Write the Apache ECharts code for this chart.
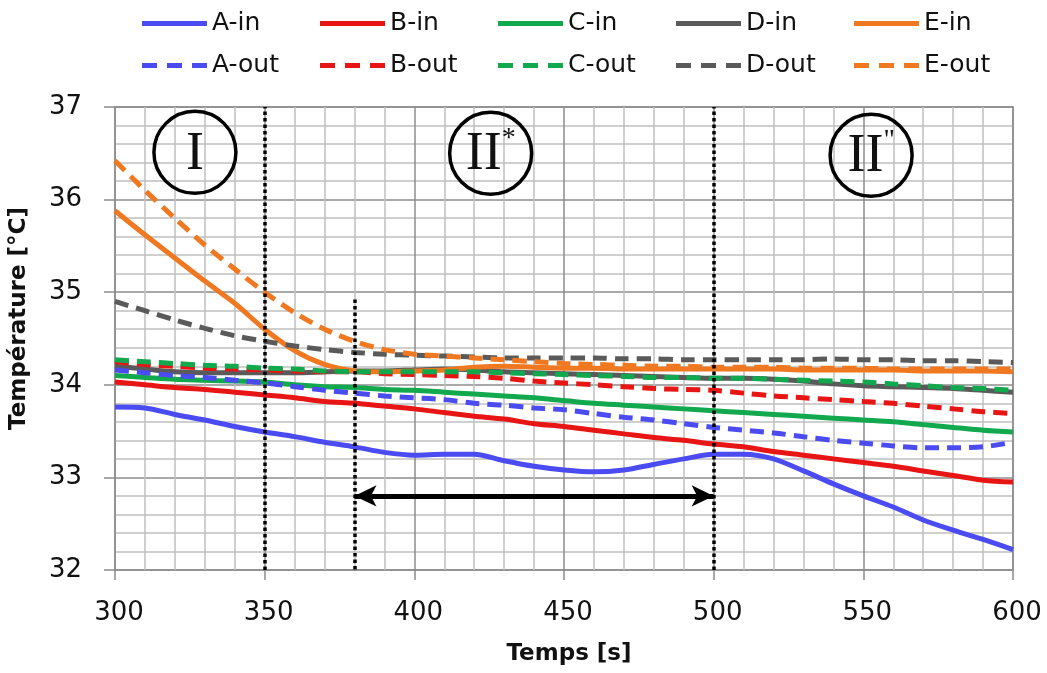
<!DOCTYPE html>
<html><head><meta charset="utf-8">
<script src="https://cdn.jsdelivr.net/npm/echarts@6/dist/echarts.min.js"></script>
<style>html,body{margin:0;padding:0;background:#fff}#c{width:1047px;height:673px}</style>
</head><body><div id="c"></div>
<script>
var times = [300,310,320,330,340,350,360,370,380,390,400,410,420,430,440,450,460,470,480,490,500,510,520,530,540,550,560,570,580,590,600];
var xTicks = [300,350,400,450,500,550,600];
var yTicks = [32,33,34,35,36,37];
var seriesNames = ['A-in','B-in','C-in','D-in','E-in','A-out','B-out','C-out','D-out','E-out'];
var A_in  = [33.76,33.75,33.68,33.62,33.55,33.49,33.44,33.38,33.33,33.27,33.24,33.25,33.25,33.18,33.12,33.08,33.06,33.08,33.14,33.20,33.25,33.25,33.20,33.07,32.93,32.80,32.68,32.54,32.43,32.33,32.22];
var B_in  = [34.03,34.00,33.97,33.95,33.92,33.89,33.86,33.82,33.80,33.77,33.74,33.70,33.66,33.63,33.58,33.55,33.51,33.47,33.43,33.40,33.36,33.33,33.28,33.24,33.20,33.16,33.12,33.07,33.02,32.97,32.95];
var C_in  = [34.10,34.08,34.06,34.05,34.04,34.03,34.00,33.98,33.97,33.95,33.94,33.92,33.90,33.88,33.86,33.83,33.80,33.78,33.76,33.74,33.72,33.70,33.68,33.66,33.64,33.62,33.60,33.57,33.54,33.51,33.49];
var D_in  = [34.20,34.17,34.14,34.13,34.13,34.13,34.13,34.14,34.15,34.15,34.16,34.17,34.16,34.14,34.13,34.12,34.11,34.10,34.09,34.08,34.07,34.07,34.06,34.04,34.01,33.99,33.98,33.97,33.96,33.94,33.92];
var E_in  = [35.88,35.62,35.37,35.12,34.88,34.60,34.37,34.22,34.15,34.14,34.15,34.16,34.19,34.20,34.19,34.18,34.18,34.17,34.17,34.17,34.17,34.17,34.17,34.16,34.16,34.16,34.16,34.15,34.15,34.15,34.14];
var A_out = [34.16,34.13,34.10,34.08,34.05,34.02,33.98,33.94,33.91,33.88,33.86,33.84,33.80,33.78,33.75,33.73,33.69,33.65,33.62,33.58,33.54,33.51,33.48,33.44,33.40,33.37,33.34,33.32,33.32,33.33,33.38];
var B_out = [34.25,34.22,34.20,34.18,34.17,34.16,34.15,34.14,34.14,34.12,34.11,34.10,34.09,34.07,34.04,34.02,34.00,33.98,33.96,33.95,33.94,33.91,33.88,33.86,33.84,33.82,33.80,33.77,33.74,33.71,33.69];
var C_out = [34.27,34.25,34.23,34.21,34.20,34.18,34.17,34.15,34.14,34.14,34.14,34.14,34.14,34.13,34.12,34.11,34.10,34.09,34.08,34.08,34.07,34.07,34.06,34.05,34.04,34.03,34.01,33.99,33.97,33.96,33.94];
var D_out = [34.90,34.80,34.70,34.61,34.53,34.47,34.42,34.38,34.35,34.33,34.32,34.31,34.30,34.29,34.29,34.29,34.29,34.28,34.28,34.27,34.27,34.27,34.27,34.27,34.28,34.27,34.27,34.26,34.26,34.25,34.24];
var E_out = [36.42,36.10,35.80,35.51,35.25,35.00,34.78,34.60,34.47,34.38,34.33,34.31,34.29,34.27,34.25,34.23,34.22,34.21,34.20,34.20,34.19,34.19,34.19,34.18,34.18,34.18,34.17,34.17,34.17,34.17,34.17];
var phaseLines = [350, 500];
var arrowStart = 380, arrowEnd = 500, arrowY = 32.8, partialTop = 34.92;
var regionLabels = [
  {x: 326.7, y: 36.51, main: 'I', sup: ''},
  {x: 425.5, y: 36.50, main: 'II', sup: '*'},
  {x: 552.6, y: 36.48, main: 'II', sup: '"'}
];

var allData = [A_in,B_in,C_in,D_in,E_in,A_out,B_out,C_out,D_out,E_out];
var colors = ['#4B4BF2','#E81515','#12A84E','#5A5A5A','#F07820','#4B4BF2','#E81515','#12A84E','#5A5A5A','#F07820'];
var font = 'DejaVu Sans';

var series = seriesNames.map(function(name, i){
  return {
    name: name, type: 'line', showSymbol: false, symbol: 'none', smooth: 0.3,
    data: times.map(function(t, j){ return [t, allData[i][j]]; }),
    lineStyle: {color: colors[i], width: 5, type: i >= 5 ? [14, 8] : 'solid'},
    itemStyle: {color: colors[i]},
    emphasis: {disabled: true},
    z: 3, animation: false
  };
});

var dot = {color: '#000', width: 3.5, type: [3.5, 3]};
series.push({
  type: 'line', data: [], silent: true, animation: false,
  markLine: {
    silent: true, symbol: 'none', animation: false,
    label: {show: false},
    data: phaseLines.map(function(v){ return {xAxis: v, lineStyle: dot}; }).concat([
      [{coord: [arrowStart, partialTop], lineStyle: dot}, {coord: [arrowStart, 32]}],
      [{coord: [arrowStart, arrowY], symbol: 'arrow', symbolSize: [16, 22], lineStyle: {color: '#000', width: 5, type: 'solid'}},
       {coord: [arrowEnd, arrowY], symbol: 'arrow', symbolSize: [16, 22]}]
    ])
  },
  markPoint: {
    silent: true, animation: false,
    data: regionLabels.map(function(r){
      return {
        coord: [r.x, r.y], symbol: 'circle', symbolSize: 82,
        itemStyle: {color: 'rgba(255,255,255,0)', borderColor: '#000', borderWidth: 3.5},
        label: {
          show: true, position: 'inside',
          formatter: '{m|' + r.main + '}' + (r.sup ? '{s|' + r.sup + '}' : ''),
          rich: {
            m: {fontFamily: 'Liberation Serif', fontSize: 54, color: '#111', verticalAlign: 'middle', padding: [4,0,0,0]},
            s: {fontFamily: 'Liberation Serif', fontSize: 28, color: '#111', verticalAlign: 'top', padding: [0,0,20,0]}
          }
        }
      };
    })
  }
});

var solidIcon = 'path://M0,0h65v5h-65z';
var dashIcon = 'path://M0,0h15v5h-15z M25,0h15v5h-15z M50,0h15v5h-15z';
var legends = seriesNames.map(function(name, i){
  var row = i < 5 ? 0 : 1;
  var col = i % 5;
  return {
    data: [{name: name, icon: row ? dashIcon : solidIcon}],
    left: 137 + 178 * col, top: row ? 48 : 6,
    itemWidth: 65, itemHeight: 5, itemGap: 0, selectedMode: false,
    textStyle: {fontFamily: font, fontSize: 25, color: '#111', padding: [0,0,0,0]}
  };
});

var chart = echarts.init(document.getElementById('c'), null, {renderer: 'canvas'});
chart.setOption({
  animation: false,
  backgroundColor: '#fff',
  legend: legends,
  grid: {left: 115, right: 34, top: 107, bottom: 103, show: true, borderColor: '#8c8c8c', borderWidth: 1.5},
  xAxis: {
    type: 'value', min: xTicks[0], max: xTicks[xTicks.length-1], interval: 50,
    name: 'Temps [s]', nameLocation: 'middle', nameGap: 73,
    nameTextStyle: {fontFamily: font, fontSize: 23, fontWeight: 'bold', color: '#111', padding: [0,0,0,10]},
    axisLine: {show: false},
    axisTick: {show: true, length: 10, lineStyle: {color: '#8c8c8c', width: 1.5}},
    axisLabel: {fontFamily: font, fontSize: 26, color: '#111', margin: 30, padding: [0,0,0,8]},
    splitLine: {show: true, lineStyle: {color: '#8c8c8c', width: 1.5}},
    minorTick: {show: false, splitNumber: 5},
    minorSplitLine: {show: true, lineStyle: {color: '#c0c0c0', width: 1.5}}
  },
  yAxis: {
    type: 'value', min: yTicks[0], max: yTicks[yTicks.length-1], interval: 1,
    name: 'Température [°C]', nameLocation: 'middle', nameGap: 84,
    nameTextStyle: {fontFamily: font, fontSize: 23, fontWeight: 'bold', color: '#111', padding: [0,0,0,40]},
    axisLine: {show: false},
    axisTick: {show: true, length: 11, lineStyle: {color: '#8c8c8c', width: 1.5}},
    axisLabel: {fontFamily: font, fontSize: 26, color: '#111', margin: 33, padding: [6,0,0,0]},
    splitLine: {show: true, lineStyle: {color: '#8c8c8c', width: 1.5}},
    minorTick: {show: false, splitNumber: 5},
    minorSplitLine: {show: true, lineStyle: {color: '#c0c0c0', width: 1.5}}
  },
  series: series
});
</script></body></html>
